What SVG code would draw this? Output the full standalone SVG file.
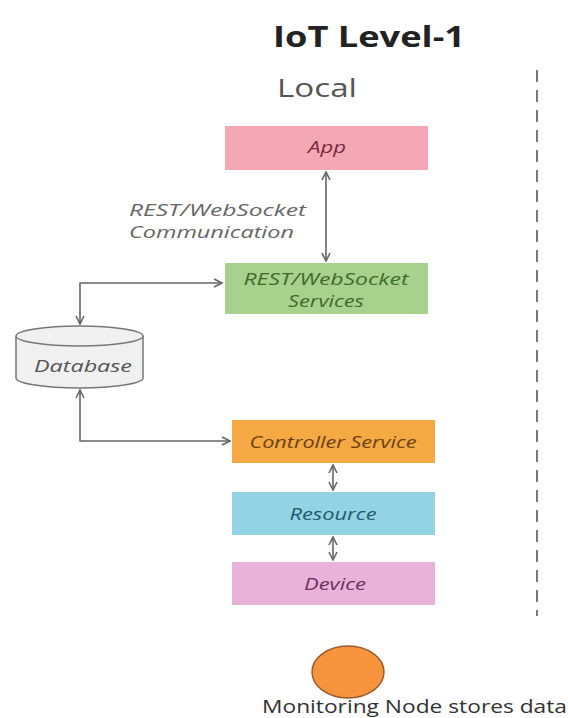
<svg xmlns="http://www.w3.org/2000/svg" width="568" height="718" viewBox="0 0 568 718">
<defs>
<style>
.ttl{font-family:"Open Sans","Liberation Sans",sans-serif;font-weight:bold;font-size:29px;fill:#222}
.loc{font-family:"Open Sans","Liberation Sans",sans-serif;font-size:25px;fill:#555}
.lbl{font-family:"Open Sans","Liberation Sans",sans-serif;font-style:italic;font-size:16px;text-anchor:middle}
.note{font-family:"Open Sans","Liberation Sans",sans-serif;font-style:italic;font-size:16px;fill:#666}
.cap{font-family:"Open Sans","Liberation Sans",sans-serif;font-size:19px;fill:#333}
.conn{fill:none;stroke:#666;stroke-width:1.6}
</style>
<marker id="ah" viewBox="0 0 10 10" refX="9" refY="5" markerWidth="10" markerHeight="10" markerUnits="userSpaceOnUse" orient="auto-start-reverse">
<path d="M1,1 L9,5 L1,9" fill="none" stroke="#666" stroke-width="1.6"/>
</marker>
</defs>
<rect width="568" height="718" fill="#fff"/>
<text class="ttl" x="369" y="47" text-anchor="middle" textLength="192" lengthAdjust="spacingAndGlyphs">IoT Level-1</text>
<text class="loc" x="317" y="97" text-anchor="middle" textLength="80" lengthAdjust="spacingAndGlyphs">Local</text>
<line x1="537" y1="70" x2="537" y2="616" stroke="#777" stroke-width="2" stroke-dasharray="12 8"/>
<g id="app">
<rect x="225" y="126" width="203" height="44" fill="#f4a7b5"/>
<text class="lbl" x="327" y="153" fill="#7a2a40" textLength="38" lengthAdjust="spacingAndGlyphs">App</text>
</g>
<g id="services">
<rect x="225" y="263" width="203" height="51" fill="#a9d18e"/>
<text class="lbl" x="326" y="285" fill="#3d6b2a" textLength="165" lengthAdjust="spacingAndGlyphs">REST/WebSocket</text>
<text class="lbl" x="326" y="307" fill="#3d6b2a" textLength="76" lengthAdjust="spacingAndGlyphs">Services</text>
</g>
<g id="database">
<path d="M16,336 V378 A63.5,10 0 0 0 143,378 V336" fill="#f0f0f0" stroke="#777" stroke-width="1.5"/>
<ellipse cx="79.5" cy="336" rx="63.5" ry="10" fill="#f0f0f0" stroke="#777" stroke-width="1.5"/>
<text class="lbl" x="83" y="372" fill="#555" textLength="98" lengthAdjust="spacingAndGlyphs">Database</text>
</g>
<g id="controller">
<rect x="232" y="420" width="203" height="43" fill="#f5a942"/>
<text class="lbl" x="333" y="448" fill="#6b4010" textLength="167" lengthAdjust="spacingAndGlyphs">Controller Service</text>
</g>
<g id="resource">
<rect x="232" y="492" width="203" height="43" fill="#93d3e4"/>
<text class="lbl" x="333" y="520" fill="#1f5a6e" textLength="87" lengthAdjust="spacingAndGlyphs">Resource</text>
</g>
<g id="device">
<rect x="232" y="562" width="203" height="43" fill="#e9b3d9"/>
<text class="lbl" x="335" y="590" fill="#6a3060" textLength="62" lengthAdjust="spacingAndGlyphs">Device</text>
</g>
<g id="monitoring">
<ellipse cx="348" cy="672" rx="36" ry="26" fill="#f7953f" stroke="#9a5a2a" stroke-width="1.5"/>
<text class="cap" x="262" y="713" textLength="305" lengthAdjust="spacingAndGlyphs">Monitoring Node  stores data</text>
</g>
<g id="connectors">
<line class="conn" x1="326" y1="172" x2="326" y2="261" marker-start="url(#ah)" marker-end="url(#ah)"/>
<text class="note" x="129" y="216" textLength="177" lengthAdjust="spacingAndGlyphs">REST/WebSocket</text>
<text class="note" x="129" y="238" textLength="165" lengthAdjust="spacingAndGlyphs">Communication</text>
<path class="conn" d="M80,324 V283 H222" marker-start="url(#ah)" marker-end="url(#ah)"/>
<path class="conn" d="M80,390 V441 H230" marker-start="url(#ah)" marker-end="url(#ah)"/>
<line class="conn" x1="333" y1="465" x2="333" y2="490" marker-start="url(#ah)" marker-end="url(#ah)"/>
<line class="conn" x1="333" y1="537" x2="333" y2="560" marker-start="url(#ah)" marker-end="url(#ah)"/>
</g>
</svg>
